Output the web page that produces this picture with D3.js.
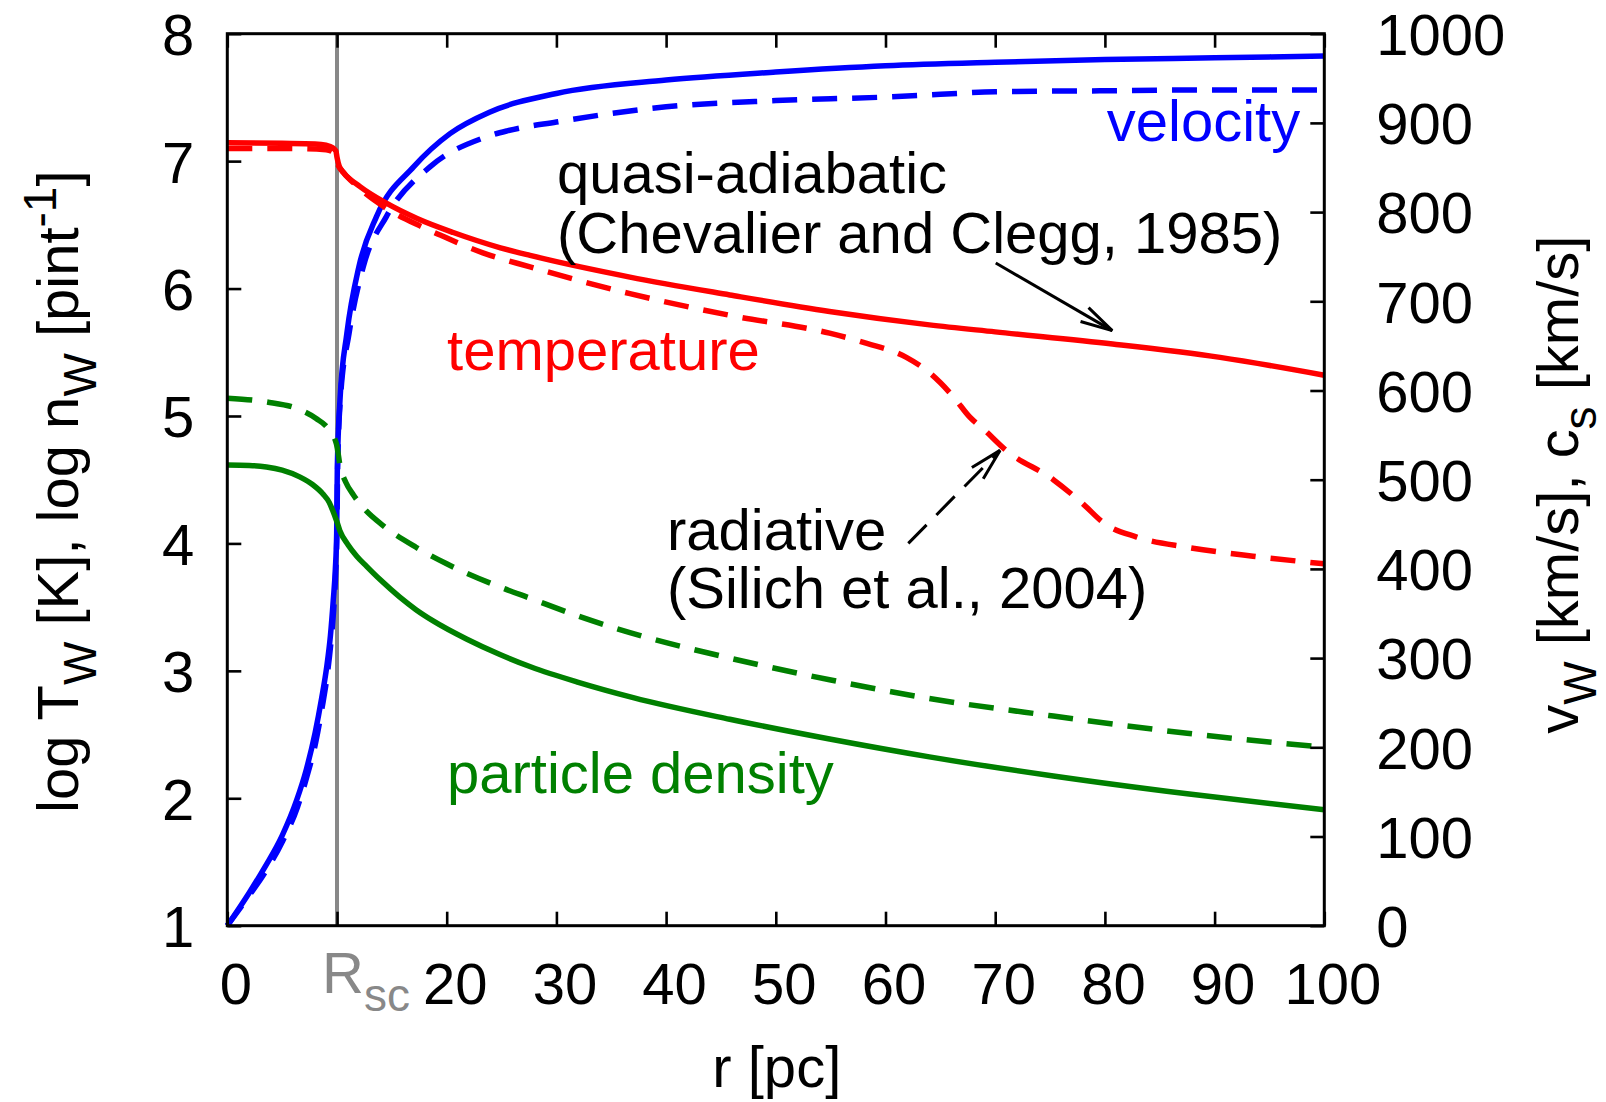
<!DOCTYPE html>
<html>
<head>
<meta charset="utf-8">
<script src="https://cdn.jsdelivr.net/npm/d3@7"></script>
<style>
body { margin: 0; background: #fff; }
text { white-space: pre; }
</style>
</head>
<body>
<script>
// axes
const rDomain = [0, 100];
const logDomain = [1, 8];
const velDomain = [0, 1000];
const xTicks = [0, 10, 20, 30, 40, 50, 60, 70, 80, 90, 100];
const yTicks = [1, 2, 3, 4, 5, 6, 7, 8];
const y2Ticks = [0, 100, 200, 300, 400, 500, 600, 700, 800, 900, 1000];
const rSc = 10;

// wind velocity [km/s], quasi-adiabatic (solid) and radiative (dashed)
const velAdiabR = [0, 2, 3.44, 5, 6.33, 7.2, 8.0, 8.6, 9.06, 9.4, 9.66, 9.85, 9.97, 10.03, 10.27, 10.9, 12.0, 13.6, 17.0, 20.3, 23.9, 30, 40, 50, 60, 70, 80, 90, 100];
const velAdiab  = [0, 37, 66, 101, 141, 175, 216, 255, 290, 325, 365, 400, 440, 514, 589, 664, 739, 795, 851, 888, 912, 933, 948, 957, 964, 968, 971, 973, 975];
const velRadR = [0, 2, 3.5, 5.05, 6.4, 7.25, 8.05, 8.65, 9.1, 9.45, 9.7, 9.88, 9.98, 10.06, 10.3, 11.1, 12.4, 14.5, 18.5, 23.3, 25.5, 30, 40, 50, 60, 65, 70, 80, 90, 100];
const velRad  = [0, 34, 61, 95, 133, 167, 205, 245, 280, 318, 355, 395, 432, 514, 589, 664, 739, 795, 851, 883, 891, 901, 918, 925, 929, 932, 935, 936, 937, 937];

// log temperature
const tempAdiabR = [0, 5, 8, 9, 9.6, 9.9, 10.0, 10.2, 10.6, 12.1, 14.5, 17.3, 20.6, 24.9, 27.6, 36.7, 45.8, 54.9, 64, 70, 80.7, 90.5, 100];
const tempAdiab  = [7.145, 7.14, 7.135, 7.125, 7.105, 7.08, 7.03, 6.96, 6.91, 6.80, 6.67, 6.55, 6.44, 6.32, 6.26, 6.09, 5.95, 5.82, 5.715, 5.66, 5.565, 5.46, 5.32];
const tempRadR = [0, 5, 9, 9.8, 10.0, 10.5, 11.5, 14.5, 17.6, 19.4, 23.3, 27.6, 36.7, 45.8, 54.9, 58.3, 61.9, 64.0, 66.2, 67.7, 68.9, 71.0, 75.3, 78.0, 79.9, 82.9, 87.5, 93.5, 100];
const tempRad  = [7.10, 7.10, 7.09, 7.06, 6.99, 6.92, 6.83, 6.63, 6.49, 6.42, 6.28, 6.17, 5.96, 5.79, 5.65, 5.57, 5.46, 5.34, 5.15, 4.99, 4.90, 4.73, 4.50, 4.31, 4.16, 4.05, 3.97, 3.90, 3.84];

// log particle density
const densAdiabR = [0, 2, 3.57, 5, 6.6, 7.8, 8.7, 9.3, 9.6, 9.95, 10.26, 11.0, 11.8, 12.7, 14, 15.7, 17.2, 18.8, 21.8, 24.8, 27.7, 32, 37, 45.8, 54.9, 64, 75.3, 87.5, 100];
const densAdiab  = [4.615, 4.612, 4.60, 4.575, 4.522, 4.46, 4.39, 4.32, 4.26, 4.18, 4.10, 3.99, 3.90, 3.82, 3.71, 3.58, 3.48, 3.39, 3.25, 3.13, 3.03, 2.91, 2.79, 2.62, 2.465, 2.325, 2.175, 2.035, 1.91];
const densRadR = [0, 3.57, 6.6, 8.1, 9.2, 9.95, 10.3, 10.8, 11.5, 12.5, 14.2, 17.2, 20, 24.8, 27.6, 32, 36.7, 45.8, 54.9, 63.5, 75.3, 87.5, 100];
const densRad  = [5.14, 5.11, 5.05, 4.98, 4.90, 4.78, 4.60, 4.48, 4.38, 4.27, 4.14, 3.97, 3.84, 3.66, 3.57, 3.43, 3.30, 3.10, 2.93, 2.79, 2.645, 2.51, 2.40];

// annotations (r, log value)
const noteTexts = ['velocity', 'quasi-adiabatic', '(Chevalier and Clegg, 1985)', 'temperature',
  'radiative', '(Silich et al., 2004)', 'particle density'];
const noteR = [97.8, 30.05, 30.05, 20.03, 40.08, 40.08, 20.03];
const noteY = [7.16, 6.748, 6.277, 5.361, 3.948, 3.491, 2.039];
const arrowFrom = [[70.05, 6.20], [62.08, 4.00]];
const arrowTo = [[80.67, 5.67], [70.44, 4.73]];

let width = 1606;
let height = 1102;
let margins = { top: 33.7, bottom: 176.3, left: 227.3, right: 281.7 };
let font = '"Liberation Sans", Arial, Helvetica, sans-serif';
let fs = 58;
let subFs = 46;

let x = d3.scaleLinear(rDomain, [margins.left, width - margins.right]);
let y = d3.scaleLinear(logDomain, [height - margins.bottom, margins.top]);
let y2 = d3.scaleLinear(velDomain, [height - margins.bottom, margins.top]);

let svg = d3.create('svg')
  .attr('width', width)
  .attr('height', height)
  .attr('font-family', font)
  .style('background', '#fff');

// Rsc marker line
svg.append('line')
  .attr('x1', x(rSc)).attr('x2', x(rSc))
  .attr('y1', y(8)).attr('y2', y(1))
  .attr('stroke', '#888')
  .attr('stroke-width', 4);

function curve(rs, vs, scale) {
  return d3.line()
    .curve(d3.curveMonotoneX)
    .x(d => x(d[0]))
    .y(d => scale(d[1]))(d3.zip(rs, vs));
}

let series = [
  { r: velAdiabR, v: velAdiab, s: y2, color: '#0000ff', dash: null },
  { r: velRadR, v: velRad, s: y2, color: '#0000ff', dash: '25,15' },
  { r: tempAdiabR, v: tempAdiab, s: y, color: '#ff0000', dash: null },
  { r: tempRadR, v: tempRad, s: y, color: '#ff0000', dash: '25,15' },
  { r: densAdiabR, v: densAdiab, s: y, color: '#008000', dash: null },
  { r: densRadR, v: densRad, s: y, color: '#008000', dash: '25,15' },
];

series.forEach(d => {
  svg.append('path')
    .attr('d', curve(d.r, d.v, d.s))
    .attr('fill', 'none')
    .attr('stroke', d.color)
    .attr('stroke-width', 5.5)
    .attr('stroke-dasharray', d.dash);
});

// frame
svg.append('rect')
  .attr('x', x(0)).attr('y', y(8))
  .attr('width', x(100) - x(0)).attr('height', y(1) - y(8))
  .attr('fill', 'none')
  .attr('stroke', '#000')
  .attr('stroke-width', 3);

// axes
let gx = svg.append('g')
  .attr('transform', `translate(0,${y(1)})`)
  .call(d3.axisBottom(x).tickValues(xTicks).tickSize(-14).tickPadding(37)
    .tickFormat(d => d === rSc ? '' : String(d)));
gx.selectAll('text').attr('x', 8);

svg.append('g')
  .attr('transform', `translate(0,${y(8)})`)
  .call(d3.axisTop(x).tickValues(xTicks).tickSize(-14).tickFormat(''));

let gy = svg.append('g')
  .attr('transform', `translate(${x(0)},0)`)
  .call(d3.axisLeft(y).tickValues(yTicks).tickSize(-14).tickPadding(33)
    .tickFormat(d => String(d)));
gy.selectAll('text').attr('dy', '0.36em');

let gy2 = svg.append('g')
  .attr('transform', `translate(${x(100)},0)`)
  .call(d3.axisRight(y2).tickValues(y2Ticks).tickSize(-14).tickPadding(52)
    .tickFormat(d => String(d)));
gy2.selectAll('text').attr('dy', '0.36em');

svg.selectAll('.domain').remove();
svg.selectAll('.tick line').attr('stroke', '#000').attr('stroke-width', 2.6);
svg.selectAll('.tick text')
  .attr('font-family', font)
  .attr('font-size', fs)
  .attr('fill', '#000');

// R_sc tick label
let rsc = svg.append('text')
  .attr('x', x(rSc) - 15)
  .attr('y', 993)
  .attr('font-size', fs)
  .attr('fill', '#888');
rsc.append('tspan').text('R');
rsc.append('tspan').attr('font-size', subFs).attr('dy', 18).text('sc');

// axis titles
svg.append('text')
  .text('r [pc]')
  .attr('x', (x(0) + x(100)) / 2 + 1)
  .attr('y', 1087)
  .attr('font-size', fs)
  .attr('text-anchor', 'middle');

let yt = svg.append('text')
  .attr('transform', `translate(78,${(y(1) + y(8)) / 2 + 12}) rotate(-90)`)
  .attr('font-size', fs)
  .attr('text-anchor', 'middle');
yt.append('tspan').text('log T');
yt.append('tspan').attr('font-size', subFs).attr('dy', 18).text('W');
yt.append('tspan').attr('dy', -18).text(' [K], log n');
yt.append('tspan').attr('font-size', subFs).attr('dy', 18).text('W');
yt.append('tspan').attr('dy', -18).text(' [pint');
yt.append('tspan').attr('font-size', subFs).attr('dy', -22).text('-1');
yt.append('tspan').attr('dy', 22).text(']');

let y2t = svg.append('text')
  .attr('transform', `translate(1578,${(y(1) + y(8)) / 2 + 5}) rotate(-90)`)
  .attr('font-size', fs)
  .attr('text-anchor', 'middle');
y2t.append('tspan').text('v');
y2t.append('tspan').attr('font-size', subFs).attr('dy', 18).text('W');
y2t.append('tspan').attr('dy', -18).text(' [km/s], c');
y2t.append('tspan').attr('font-size', subFs).attr('dy', 18).text('s');
y2t.append('tspan').attr('dy', -18).text(' [km/s]');

// annotations
let noteColors = ['#0000ff', '#000', '#000', '#ff0000', '#000', '#000', '#008000'];
svg.append('g')
  .selectAll('text')
  .data(noteTexts)
  .join('text')
  .text(d => d)
  .attr('x', (d, i) => x(noteR[i]))
  .attr('y', (d, i) => y(noteY[i]))
  .attr('font-size', fs)
  .attr('fill', (d, i) => noteColors[i])
  .attr('text-anchor', (d, i) => i === 0 ? 'end' : 'start');

// arrows
arrowFrom.forEach((a, i) => {
  let x1 = x(a[0]), y1 = y(a[1]);
  let x2 = x(arrowTo[i][0]), y2p = y(arrowTo[i][1]);
  let ang = Math.atan2(y2p - y1, x2 - x1);
  let len = 33, spread = 14 * Math.PI / 180;
  let g = svg.append('g')
    .attr('stroke', '#000')
    .attr('stroke-width', 3)
    .attr('fill', 'none');
  g.append('line')
    .attr('x1', x1).attr('y1', y1)
    .attr('x2', x2).attr('y2', y2p)
    .attr('stroke-dasharray', i === 1 ? '26,14' : null);
  g.append('path')
    .attr('d', `M${x2 - len * Math.cos(ang - spread)},${y2p - len * Math.sin(ang - spread)}L${x2},${y2p}L${x2 - len * Math.cos(ang + spread)},${y2p - len * Math.sin(ang + spread)}`);
});

document.body.append(svg.node());
</script>
</body>
</html>
